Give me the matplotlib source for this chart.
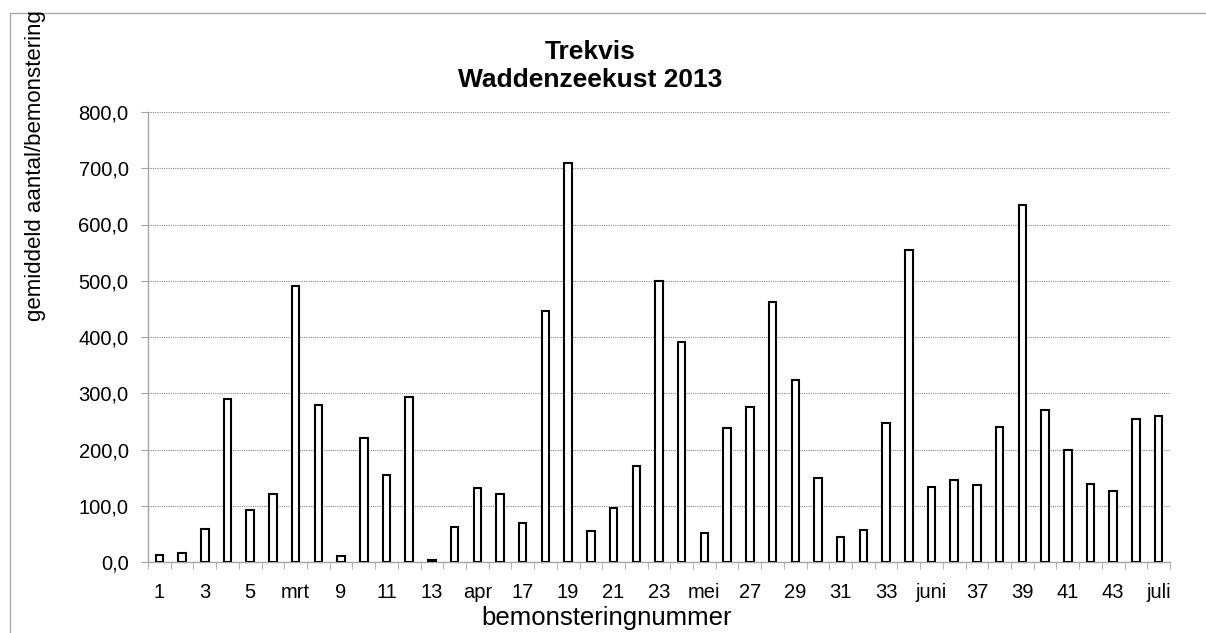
import matplotlib.pyplot as plt
from matplotlib.patches import Rectangle
import numpy as np

plt.rcParams['font.family'] = ['Liberation Sans', 'DejaVu Sans']

# bemonsteringnummer (maand-namen op de eerste bemonstering van de maand)
categories = ['1', '2', '3', '4', '5', '6', 'mrt', '8', '9', '10',
              '11', '12', '13', '14', 'apr', '16', '17', '18', '19', '20',
              '21', '22', '23', '24', 'mei', '26', '27', '28', '29', '30',
              '31', '32', '33', '34', 'juni', '36', '37', '38', '39', '40',
              '41', '42', '43', '44', 'juli']
values = [13, 16, 59, 290, 92, 121, 490, 280, 11, 221,
          154, 293, 4, 62, 131, 121, 69, 447, 710, 55,
          96, 171, 500, 392, 51, 239, 275, 462, 323, 150,
          45, 57, 247, 555, 134, 145, 137, 240, 635, 270,
          200, 138, 127, 254, 259]
y_ticks = [0, 100, 200, 300, 400, 500, 600, 700, 800]

W, H = 1206, 633
fig = plt.figure(figsize=(W / 100, H / 100), dpi=100)
ax = fig.add_axes([148 / W, 1 - 562 / H, (1170 - 148) / W, (562 - 112) / H])

x = np.arange(1, len(values) + 1)
ax.bar(x, values, width=0.33, color='white', edgecolor='black', linewidth=1.5, zorder=3)

ax.set_xlim(0.5, len(values) + 0.5)
ax.set_ylim(0, 800)

grey = '#a6a6a6'
ax.set_yticks(y_ticks)
ax.set_yticklabels([f'{v:.1f}'.replace('.', ',') for v in y_ticks])
ax.yaxis.grid(True, color='#8c8c8c', linestyle=(0, (1, 1)), linewidth=0.8, zorder=0)
ax.tick_params(axis='y', length=5, color=grey, pad=9, labelsize=14.5)

ax.set_xticks(x[::2])
ax.set_xticklabels(categories[::2])
ax.set_xticks(np.arange(0.5, len(values) + 1, 1), minor=True)
ax.tick_params(axis='x', which='major', length=0, pad=15, labelsize=14.5)
ax.tick_params(axis='x', which='minor', length=5, color=grey)

for s in ['top', 'right']:
    ax.spines[s].set_visible(False)
for s in ['left', 'bottom']:
    ax.spines[s].set_color(grey)
    ax.spines[s].set_linewidth(1)

fig.text(590 / W, 1 - 66 / H, 'Trekvis\nWaddenzeekust 2013', ha='center', va='center',
         fontsize=19, fontweight='bold', linespacing=1.2)
fig.text(607 / W, 1 - 625 / H, 'bemonsteringnummer', ha='center', va='baseline', fontsize=18.5)
fig.text(36 / W, 1 - 166 / H, 'gemiddeld aantal/bemonstering', ha='center', va='center',
         rotation=90, fontsize=16)

# rand van het grafiekgebied
fig.patches.append(Rectangle((10 / W, -0.1), 1.2, 1.1 - 13 / H, transform=fig.transFigure,
                             fill=False, edgecolor='#aaaaaa', linewidth=1))

fig.savefig('out.png', dpi=100)
